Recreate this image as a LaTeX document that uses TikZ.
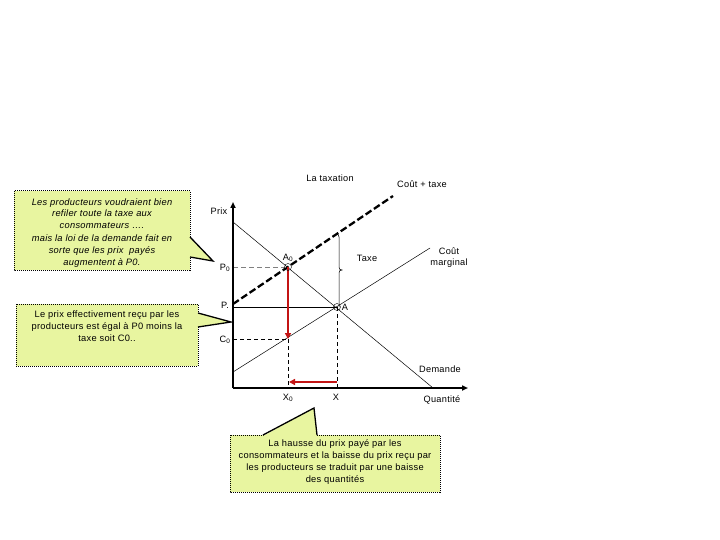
\documentclass[tikz,border=0pt]{standalone}
\usepackage{fontspec}
\setmainfont[LetterSpace=3]{Liberation Sans}
\usetikzlibrary{arrows.meta}
\definecolor{callout}{RGB}{232,245,160}
\definecolor{arrowred}{RGB}{195,20,20}
\tikzset{
  lbl/.style={font=\fontsize{9.2}{11}\selectfont, inner sep=0pt},
  boxtext/.style={font=\fontsize{9.3}{11.7}\selectfont, align=center, inner sep=0pt},
  calloutbox/.style={fill=callout, draw=black, densely dotted, line width=1pt},
  pointer/.style={draw=black, line width=1.3pt, solid},
  axis/.style={line width=1.8pt, -{Triangle[length=6pt,width=5pt]}},
  thin line/.style={line width=0.5pt},
  redarrow/.style={draw=arrowred, line width=2.8pt, -{Triangle[length=6pt,width=6pt]}},
  circ/.style={circle, draw, thin, minimum size=7pt, inner sep=0pt},
}
\begin{document}
\begin{tikzpicture}[x=1pt,y=-1pt]
\useasboundingbox (0,0) rectangle (720,540);
\fill[white] (0,0) rectangle (720,540);

% key points
\coordinate (O) at (233,388);
\coordinate (ytop) at (233,202);
\coordinate (xend) at (468,388);
\coordinate (Dtop) at (233,222);
\coordinate (Dbot) at (433,388);
\coordinate (MCl) at (233,372);
\coordinate (MCr) at (430,248);
\coordinate (CTl) at (233,304);
\coordinate (CTr) at (393,196);
\coordinate (A0) at (288,267);
\coordinate (A) at (337,307);
\coordinate (P0a) at (233,267);
\coordinate (Pa) at (233,307);
\coordinate (C0a) at (233,339);
\coordinate (C0) at (288,339);
\coordinate (X0) at (288,388);
\coordinate (X) at (337,388);
\coordinate (Btop) at (339,235);
\coordinate (Bbot) at (339,307);
\coordinate (Rx1) at (337,382);
\coordinate (Rx0) at (289,382);

% callout boxes
\path[calloutbox] (14,191) rectangle (190,270);
\fill[callout] (189,237) -- (213,261) -- (189,257) -- cycle;
\draw[pointer] (190,237) -- (213,261) -- (190,257);
\node[boxtext, font=\fontsize{9.3}{11.7}\selectfont\itshape] (t1) at (102,213.5)
  {Les producteurs voudraient bien\\refiler toute la taxe aux\\consommateurs ….};
\node[boxtext, font=\fontsize{9.3}{11.7}\selectfont\itshape] (t1b) at (102,251)
  {mais la loi de la demande fait en\\sorte que les prix~ payés\\augmentent à P0.};

\path[calloutbox] (16,304) rectangle (198,366);
\fill[callout] (197,313) -- (231,322) -- (197,327) -- cycle;
\draw[pointer] (198,313) -- (231,322) -- (198,327);
\node[boxtext] (t2) at (107,326)
  {Le prix effectivement reçu par les\\producteurs est égal à P0 moins la\\taxe soit C0..};

\path[calloutbox] (230,435) rectangle (440,492);
\fill[callout] (263,436) -- (314,408) -- (317,436) -- cycle;
\draw[pointer] (263,435) -- (314,408) -- (317,435);
\node[boxtext] (t3) at (335,462)
  {La hausse du prix payé par les\\consommateurs et la baisse du prix reçu par\\les producteurs se traduit par une baisse\\des quantités};

% curves
\draw[thin line] (Dtop) -- (Dbot);
\draw[thin line] (MCl) -- (MCr);
\draw[line width=2.3pt, dash pattern=on 7pt off 3pt] (CTl) -- (CTr);

% guide lines
\draw[gray, thin line, dash pattern=on 5pt off 3pt] (P0a) -- (A0);
\draw[thin line] (Pa) -- (A);
\draw[thin line, dash pattern=on 4pt off 3pt] (C0a) -- (C0);
\draw[thin line, dash pattern=on 4pt off 3pt] (C0) -- (X0);
\draw[thin line, dash pattern=on 4pt off 3pt] (A) -- (X);

% tax brace
\draw[thin line] (336,234) .. controls (338,234) and (339,235) .. (339,237)
  -- (339,267) .. controls (339,269) and (340,270) .. (342,270)
  .. controls (340,270) and (339,271) .. (339,273) -- (Bbot);

% axes
\draw[axis] (O) -- (ytop);
\draw[axis] (O) -- (xend);

% red arrows
\draw[redarrow] (A0) -- (C0);
\draw[redarrow] (Rx1) -- (Rx0);

% points
\node[circ] (cA0) at (A0) {};
\node[circ] (cA) at (A) {};

% labels
\node[lbl] (title) at (330,178) {La taxation};
\node[lbl] (ct) at (422,184) {Coût + taxe};
\node[lbl] (prix) at (219,211) {Prix};
\node[lbl] (lP0) at (225,268) {P\textsubscript{0}};
\node[lbl] (lP) at (225,305) {P.};
\node[lbl] (lC0) at (225,340) {C\textsubscript{0}};
\node[lbl] (lA0) at (288,258) {A\textsubscript{0}};
\node[lbl] (lA) at (345,307) {A};
\node[lbl] (taxe) at (367,258) {Taxe};
\node[lbl, align=center] (cm) at (449,258) {Coût\\marginal};
\node[lbl] (dem) at (440,369) {Demande};
\node[lbl] (qte) at (442,400) {Quantité};
\node[lbl] (lX0) at (288,398) {X\textsubscript{0}};
\node[lbl] (lX) at (336,397) {X};
\end{tikzpicture}
\end{document}
